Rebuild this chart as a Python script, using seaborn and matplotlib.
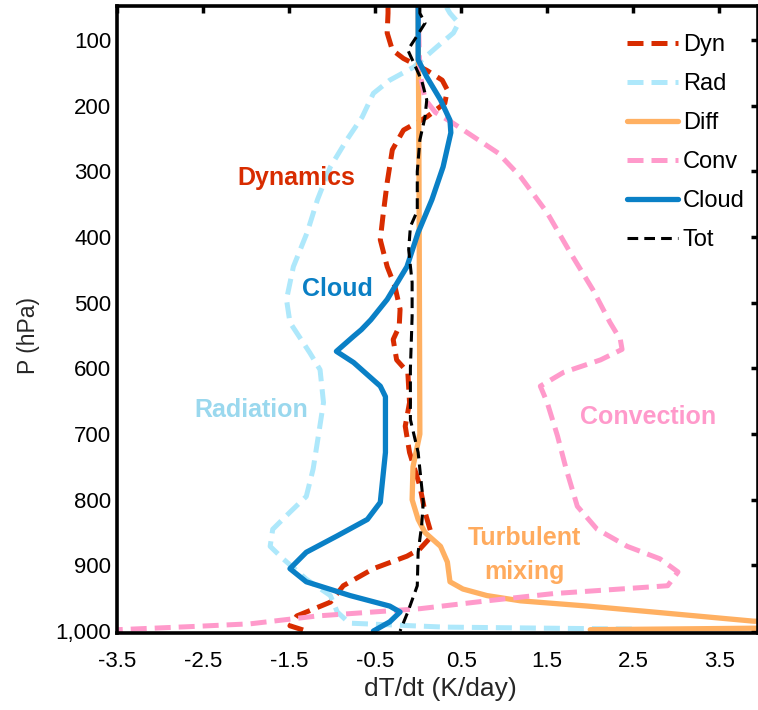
import matplotlib
matplotlib.use("Agg")
import matplotlib.pyplot as plt
import seaborn as sns
import numpy as np

# ---- data (pressure in hPa, heating rate in K/day) ----
p_dyn = [50, 59, 89, 115, 128, 146, 161, 176, 196, 217, 237, 267, 317, 369, 404, 445, 475,
         510, 536, 556, 587, 606, 652, 688, 728, 779, 819, 855, 875, 886, 905, 931, 956,
         977, 992, 1000]
dyn = [-0.35, -0.35, -0.36, -0.3, -0.17, 0.1, 0.28, 0.34, 0.31, 0.1, -0.17, -0.3, -0.36,
       -0.41, -0.44, -0.36, -0.27, -0.21, -0.22, -0.29, -0.25, -0.12, -0.1, -0.15, -0.1,
       0.02, 0.08, 0.16, 0.02, -0.13, -0.52, -0.87, -1.02, -1.41, -1.49, -1.3]

p_rad = [50, 59, 74, 89, 110, 141, 161, 181, 217, 252, 293, 343, 393, 445, 495, 530, 576,
         602, 652, 703, 753, 795, 819, 845, 871, 890, 921, 946, 971, 988, 994, 997]
rad = [0.33, 0.37, 0.47, 0.41, 0.22, -0.05, -0.33, -0.52, -0.65, -0.83, -1.02, -1.17,
       -1.29, -1.45, -1.53, -1.49, -1.26, -1.14, -1.1, -1.16, -1.22, -1.3, -1.49, -1.69,
       -1.72, -1.57, -1.3, -1.02, -0.94, -0.8, 0.3, 2.5]

p_diff = [50, 300, 700, 750, 800, 830, 850, 871, 895, 925, 936, 946, 954, 962, 971, 985,
          992, 998]
diff = [0.0, 0.01, 0.02, -0.06, -0.07, 0.0, 0.08, 0.26, 0.34, 0.37, 0.52, 0.8, 1.19, 1.97,
        2.73, 3.9, 7.0, 2.0]

p_conv = [50, 150, 190, 210, 226, 252, 272, 308, 363, 424, 480, 530, 556, 571, 587, 606,
          627, 652, 703, 753, 810, 845, 871, 890, 910, 931, 936, 943, 954, 966, 977, 989,
          993, 998]
conv = [0.0, 0.02, 0.08, 0.2, 0.4, 0.7, 0.93, 1.19, 1.5, 1.77, 2.03, 2.23, 2.35, 2.37,
        2.12, 1.69, 1.42, 1.5, 1.62, 1.72, 1.85, 2.08, 2.43, 2.81, 3.02, 2.9, 2.35, 1.57,
        0.8, 0.02, -1.17, -1.95, -2.6, -3.5]

p_cloud = [50, 89, 130, 156, 191, 222, 241, 293, 343, 393, 445, 495, 526, 541, 551, 574,
           591, 627, 643, 728, 804, 830, 855, 880, 905, 925, 946, 962, 971, 986, 1000]
cloud = [0.0, 0.0, 0.0, 0.1, 0.26, 0.37, 0.38, 0.29, 0.16, 0.0, -0.13, -0.36, -0.55, -0.66,
         -0.75, -0.95, -0.75, -0.44, -0.38, -0.38, -0.44, -0.59, -0.94, -1.3, -1.49, -1.3,
         -0.79, -0.33, -0.21, -0.33, -0.52]

p_tot = [50, 59, 74, 95, 115, 135, 161, 191, 217, 252, 300, 360, 384, 419, 469, 521, 600,
         678, 728, 804, 840, 880, 931, 971, 1000]
tot = [0.02, 0.02, 0.08, -0.02, -0.12, -0.05, 0.04, 0.1, 0.08, 0.02, -0.01, -0.01, -0.09,
       -0.11, -0.07, -0.07, -0.09, -0.09, 0.0, 0.06, 0.04, 0.0, -0.01, -0.12, -0.21]

series_labels = ["Dyn", "Rad", "Diff", "Conv", "Cloud", "Tot"]
x_ticks = [-3.5, -2.5, -1.5, -0.5, 0.5, 1.5, 2.5, 3.5]
x_ticklabels = ["-3.5", "-2.5", "-1.5", "-0.5", "0.5", "1.5", "2.5", "3.5"]
y_ticks = [100, 200, 300, 400, 500, 600, 700, 800, 900, 1000]
y_ticklabels = ["100", "200", "300", "400", "500", "600", "700", "800", "900", "1,000"]

# ---- style ----
sns.set_theme(style="white")
plt.rcParams["font.family"] = ["Liberation Sans", "DejaVu Sans"]
plt.rcParams["axes.unicode_minus"] = False

fig = plt.figure(figsize=(7.58, 7.10), dpi=100)
ax = fig.add_axes([117 / 758, 77 / 710, 1 - 117 / 758, (633 - 6) / 710])

styles = [
    (p_dyn, dyn, "#d82c00", 3.6, (0, (3.2, 1.6))),
    (p_rad, rad, "#aee8fb", 3.6, (0, (3.2, 1.6))),
    (p_diff, diff, "#ffb062", 3.8, "-"),
    (p_conv, conv, "#ff9acb", 3.6, (0, (3.2, 1.6))),
    (p_cloud, cloud, "#0a80c6", 3.8, "-"),
    (p_tot, tot, "#000000", 2.2, (0, (3.5, 2.0))),
]
for (pp, xx, col, lw, ls), lab in zip(styles, series_labels):
    sns.lineplot(x=xx, y=pp, sort=False, estimator=None, ax=ax, color=col,
                 linewidth=lw, linestyle=ls, label=lab)

ax.set_xlim(-3.5, 3.95)
ax.set_ylim(1003, 48)
ax.set_xticks(x_ticks)
ax.set_xticklabels(x_ticklabels)
ax.set_yticks(y_ticks)
ax.set_yticklabels(y_ticklabels)
ax.tick_params(axis="both", which="both", direction="in", length=5, width=2.5,
               top=True, right=True, labelsize=16, colors="black")
ax.tick_params(axis="x", pad=13)
ax.tick_params(axis="y", pad=4)
for s in ax.spines.values():
    s.set_linewidth(2.6)
    s.set_color("black")

ax.set_xlabel("dT/dt (K/day)", fontsize=19)
ax.set_ylabel("P (hPa)", fontsize=16.5)
ax.xaxis.set_label_coords(0.504, -0.07)
ax.yaxis.set_label_coords(-0.12, 0.474)

# annotations
tk = dict(fontsize=18, fontweight="bold", ha="center", va="center")
ax.text(-1.42, 310, "Dynamics", color="#d82c00", **tk)
ax.text(-0.94, 479, "Cloud", color="#0a7fc4", **tk)
ax.text(-1.94, 664, "Radiation", color="#9ad8ee", **tk)
ax.text(2.67, 674, "Convection", color="#ff9acb", **tk)
ax.text(1.23, 858, "Turbulent", color="#ffab5e", **tk)
ax.text(1.23, 910, "mixing", color="#ffab5e", **tk)

leg = ax.legend(loc="upper left", bbox_to_anchor=(0.796, 0.955), frameon=False,
                fontsize=17, handlelength=2.15, handletextpad=0.2, labelspacing=0.72,
                borderpad=0, borderaxespad=0)
for t in leg.get_texts():
    t.set_color("black")

fig.savefig("out.png", dpi=100)
